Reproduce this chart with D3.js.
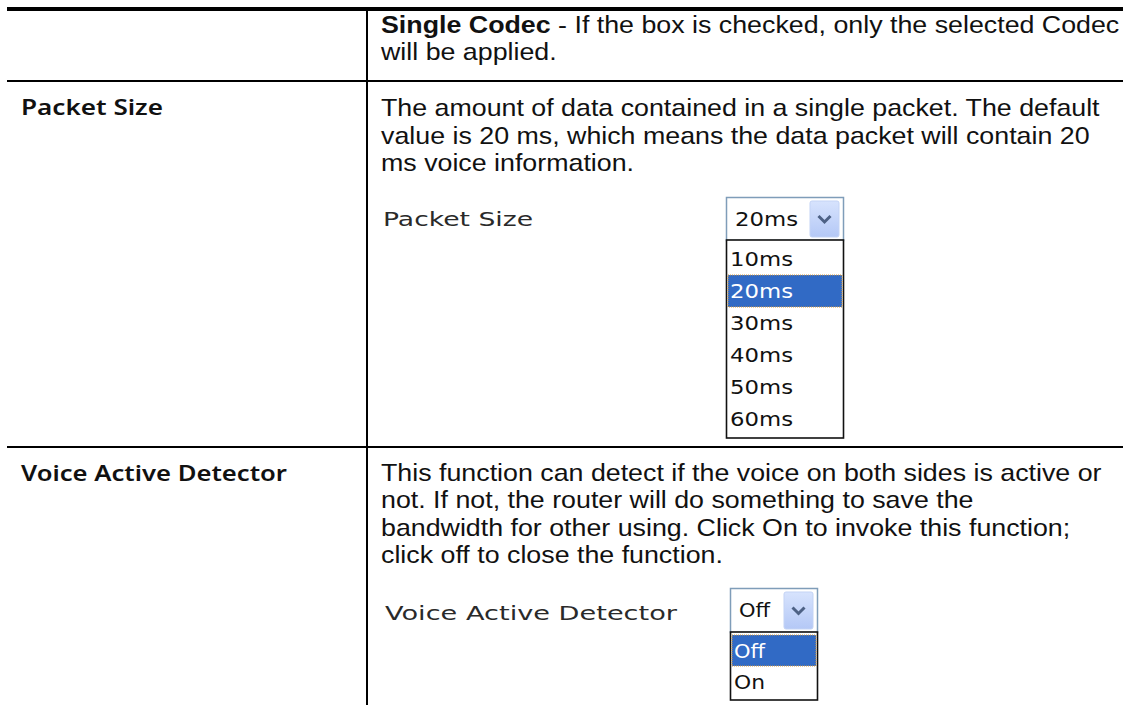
<!DOCTYPE html>
<html><head><meta charset="utf-8">
<script src="https://cdn.jsdelivr.net/npm/d3@7"></script>
<style>html,body{margin:0;padding:0;background:#fff;}svg{display:block;}</style>
</head><body>
<svg id="c" width="1123" height="705"></svg>
<script>
// ---- data ----
const rowLabels = ["", "Packet Size", "Voice Active Detector"];
const row1Lines = [
  [{t:"Single Codec", b:true}, {t:" - If the box is checked, only the selected Codec"}],
  [{t:"will be applied."}]
];
const row2Lines = [
  [{t:"The amount of data contained in a single packet. The default"}],
  [{t:"value is 20 ms, which means the data packet will contain 20"}],
  [{t:"ms voice information."}]
];
const row3Lines = [
  [{t:"This function can detect if the voice on both sides is active or"}],
  [{t:"not. If not, the router will do something to save the"}],
  [{t:"bandwidth for other using. Click On to invoke this function;"}],
  [{t:"click off to close the function."}]
];
const packetSizeOptions = ["10ms","20ms","30ms","40ms","50ms","60ms"];
const packetSizeSelected = "20ms";
const vadOptions = ["Off","On"];
const vadSelected = "Off";
const uiLabels = ["Packet Size", "Voice Active Detector"];

// ---- layout ----
const svg = d3.select("#c");
const W = 1123, H = 705;
const colX = 367, tableLeft = 7;
const rowTops = [9, 81, 447];
const bodyFont = "'Liberation Sans Narrow','Liberation Sans',Arial,sans-serif";
const labelFont = "'Noto Sans','Open Sans',sans-serif";
const uiFont = "'DejaVu Sans',Verdana,sans-serif";

// grid lines
svg.append("line").attr("x1",tableLeft).attr("x2",W).attr("y1",9).attr("y2",9)
  .attr("stroke","#000").attr("stroke-width",4);
svg.append("line").attr("x1",colX).attr("x2",colX).attr("y1",11).attr("y2",H)
  .attr("stroke","#000").attr("stroke-width",2);
[81,447].forEach(y=>{
  svg.append("line").attr("x1",tableLeft).attr("x2",W).attr("y1",y).attr("y2",y)
    .attr("stroke","#000").attr("stroke-width",2.2);
});

// left labels
const labelWidths = [0,142,266];
rowLabels.forEach((lab,i)=>{
  if(!lab) return;
  svg.append("text").attr("x",21).attr("y",rowTops[i]+34)
    .attr("font-family",labelFont).attr("font-weight",600).attr("font-size",22)
    .attr("fill","#111").attr("textLength",labelWidths[i]).attr("lengthAdjust","spacingAndGlyphs")
    .text(lab);
});

// body text blocks
function block(lines, y0, pitch){
  const g = svg.append("g");
  lines.forEach((segs,i)=>{
    const t = g.append("text").attr("class","body")
      .attr("font-family",bodyFont).attr("font-size",24).attr("fill","#111")
      .attr("data-y", y0 + i*pitch);
    segs.forEach(s=>t.append("tspan").attr("font-weight", s.b?700:400).text(s.t));
  });
  return g;
}
block(row1Lines, 33, 27.3);
block(row2Lines, 116, 27.5);
block(row3Lines, 481, 27.3);

// compute global horizontal scale from reference line widths
const refWidths = {"Single Codec - If the box is checked, only the selected Codec":726,
  "The amount of data contained in a single packet. The default":724,
  "value is 20 ms, which means the data packet will contain 20":716};
let ratios=[];
svg.selectAll("text.body").each(function(){
  const txt = this.textContent;
  if(refWidths[txt]) ratios.push(refWidths[txt]/this.getComputedTextLength());
});
const sx = d3.mean(ratios) || 1;
svg.selectAll("text.body").attr("transform",function(){
  return `translate(381,${this.getAttribute("data-y")}) scale(${sx},1)`;
});

// gradient for drop button
const defs = svg.append("defs");
const gr = defs.append("linearGradient").attr("id","btn").attr("x1",0).attr("y1",0).attr("x2",0).attr("y2",1);
gr.append("stop").attr("offset","0%").attr("stop-color","#d7e3fd");
gr.append("stop").attr("offset","100%").attr("stop-color","#b4c8f6");

function uiText(g,x,y,str,w,fill){
  return g.append("text").attr("x",x).attr("y",y).attr("font-family",uiFont)
    .attr("font-size",19).attr("fill",fill||"#222")
    .attr("textLength",w).attr("lengthAdjust","spacingAndGlyphs").text(str);
}

function dropdown(cfg){
  const g = svg.append("g");
  uiText(g, cfg.labelX, cfg.labelY, cfg.label, cfg.labelW, "#2a2a2a");
  g.append("rect").attr("x",cfg.x+0.5).attr("y",cfg.y+0.5).attr("width",cfg.w).attr("height",cfg.h)
    .attr("fill","#fff").attr("stroke","#7f9db9").attr("stroke-width",1.5);
  const bx = cfg.x+cfg.w-33, by = cfg.y+4, bw = 29, bh = cfg.h-7;
  g.append("rect").attr("x",bx).attr("y",by).attr("width",bw).attr("height",bh).attr("rx",2)
    .attr("fill","url(#btn)").attr("stroke","#c3d3f5");
  const cx = bx+bw/2, cy = by+bh/2;
  g.append("path").attr("d",`M${cx-6},${cy-3}L${cx},${cy+3}L${cx+6},${cy-3}`)
    .attr("fill","none").attr("stroke","#4d6185").attr("stroke-width",3);
  uiText(g, cfg.x+9, cfg.y+cfg.h/2+7, cfg.selected, cfg.selW, "#111");
  const listTop = cfg.y+cfg.h, listH = cfg.listH;
  g.append("rect").attr("x",cfg.x+0.5).attr("y",listTop).attr("width",cfg.w).attr("height",listH)
    .attr("fill","#fff").attr("stroke","#111").attr("stroke-width",1.6);
  const yScale = d3.scaleBand().domain(cfg.options).range([listTop+3, listTop+listH-3]);
  cfg.options.forEach(o=>{
    const sel = o===cfg.selected;
    if(sel){
      g.append("rect").attr("x",cfg.x+2).attr("y",yScale(o)).attr("width",cfg.w-3).attr("height",yScale.bandwidth())
        .attr("fill","#316ac5").attr("stroke","#d99a3a").attr("stroke-width",1).attr("stroke-dasharray","1,1");
    }
    uiText(g, cfg.x+4, yScale(o)+yScale.bandwidth()/2+7, o, cfg.optW(o), sel?"#fff":"#111");
  });
}

dropdown({label:uiLabels[0], labelX:383, labelY:226, labelW:150,
  x:726, y:197, w:117, h:43, listH:198, options:packetSizeOptions, selected:packetSizeSelected,
  selW:63, optW:o=>63});
dropdown({label:uiLabels[1], labelX:385, labelY:620, labelW:292,
  x:730, y:588, w:87, h:44, listH:68, options:vadOptions, selected:vadSelected,
  selW:31, optW:o=>31});
</script>
</body></html>
